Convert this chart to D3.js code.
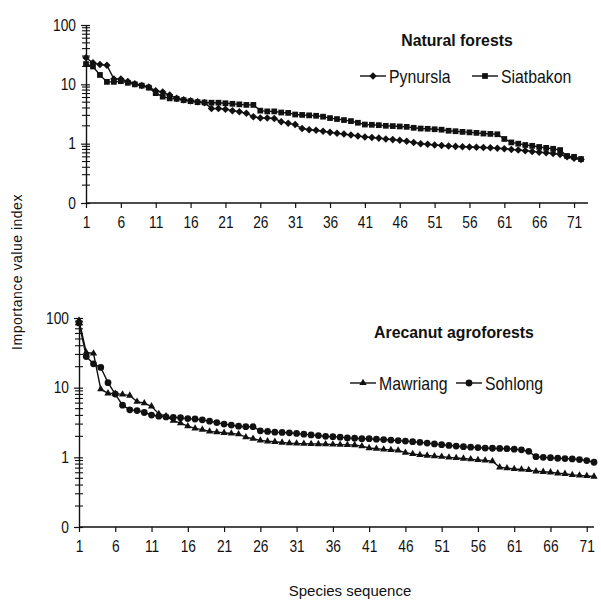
<!DOCTYPE html>
<html>
<head>
<meta charset="utf-8">
<script src="https://cdn.jsdelivr.net/npm/d3@7"></script>
<style>
  body { margin: 0; background: #fff; }
  svg text { font-family: "Liberation Sans", Arial, sans-serif; fill: #111; }
</style>
</head>
<body>
<svg id="chart" width="601" height="601"></svg>
<script>
// species rank 1..72
const species = d3.range(1, 73);

// Natural forests
const pynursla = [28, 23, 21.5, 21, 12.3, 12.3, 11.2, 10.2, 9.6, 9.0,
  7.8, 7.4, 6.6, 5.8, 5.5, 5.3, 5.1, 4.9, 3.9, 3.9,
  3.8, 3.6, 3.45, 3.25, 2.85, 2.7, 2.7, 2.65, 2.35, 2.2,
  2.1, 1.8, 1.72, 1.68, 1.62, 1.55, 1.5, 1.45, 1.4, 1.35,
  1.3, 1.27, 1.24, 1.2, 1.17, 1.14, 1.1, 1.05, 1.0, 0.98,
  0.95, 0.93, 0.91, 0.9, 0.89, 0.88, 0.87, 0.86, 0.85, 0.84,
  0.82, 0.8, 0.78, 0.76, 0.74, 0.72, 0.7, 0.68, 0.66, 0.6,
  0.57, 0.54];
const siatbakon = [22, 20, 14.4, 11, 11, 11.3, 10.6, 10, 9.5, 8.8,
  7.1, 6.2, 5.8, 5.7, 5.4, 5.2, 5.0, 4.95, 4.9, 4.9,
  4.8, 4.7, 4.6, 4.5, 4.5, 3.6, 3.5, 3.5, 3.35, 3.3,
  3.1, 3.05, 3.0, 2.95, 2.85, 2.7, 2.6, 2.5, 2.4, 2.25,
  2.1, 2.08, 2.05, 2.0, 1.98, 1.95, 1.92, 1.85, 1.8, 1.78,
  1.75, 1.72, 1.65, 1.62, 1.58, 1.55, 1.52, 1.48, 1.46, 1.44,
  1.2, 1.05, 1.0, 0.95, 0.92, 0.88, 0.85, 0.82, 0.78, 0.62,
  0.6, 0.55];

// Arecanut agroforests
const mawriang = [92, 32, 31, 9.5, 8.3, 8.2, 8.0, 7.7, 6.3, 6.0,
  5.4, 4.2, 3.9, 3.35, 3.1, 2.8, 2.6, 2.5, 2.35, 2.3,
  2.25, 2.2, 2.15, 1.95, 1.85, 1.75, 1.7, 1.67, 1.63, 1.6,
  1.58, 1.57, 1.56, 1.55, 1.54, 1.53, 1.52, 1.51, 1.5, 1.45,
  1.36, 1.33, 1.3, 1.28, 1.26, 1.17, 1.12, 1.08, 1.06, 1.04,
  1.02, 1.0, 0.98, 0.96, 0.94, 0.92, 0.9, 0.88, 0.72, 0.7,
  0.68, 0.67, 0.66, 0.63, 0.62, 0.61, 0.59, 0.58, 0.56, 0.55,
  0.54, 0.53];
const sohlong = [85, 28, 22, 19.5, 11.8, 8.1, 5.6, 4.8, 4.7, 4.4,
  4.05, 3.9, 3.8, 3.75, 3.7, 3.6, 3.55, 3.45, 3.3, 3.15,
  3.0, 2.9, 2.8, 2.75, 2.75, 2.4, 2.35, 2.3, 2.28, 2.25,
  2.2, 2.15, 2.1, 2.05, 2.0, 1.98, 1.95, 1.9, 1.88, 1.85,
  1.85, 1.82, 1.8, 1.77, 1.74, 1.71, 1.68, 1.64, 1.6, 1.56,
  1.52, 1.48, 1.45, 1.42, 1.4, 1.38, 1.36, 1.35, 1.34, 1.33,
  1.31, 1.28, 1.22, 1.02, 1.0, 0.99, 0.97, 0.96, 0.95, 0.93,
  0.9, 0.85];

const xTicks = [1, 6, 11, 16, 21, 26, 31, 36, 41, 46, 51, 56, 61, 66, 71];
const yTicks = [0.1, 1, 10, 100];
const yTickLabels = ["0", "1", "10", "100"];

const svg = d3.select("#chart");

// minor ticks 2..9 in every decade
const minorTicks = [];
[0.1, 1, 10].forEach(d => {
    for (let k = 2; k <= 9; k++) minorTicks.push(+(d * k).toPrecision(3));
});

// squeeze text horizontally (scan font is narrow)
function squeeze(sel, k) {
    sel.each(function () {
        const t = d3.select(this);
        const x0 = +t.attr("x") || 0;
        const prev = t.attr("transform") || "";
        t.attr("transform", `${prev} translate(${x0},0) scale(${k},1) translate(${-x0},0)`);
    });
}

function drawPanel(cfg) {
    const x = d3.scaleLinear().domain(cfg.xDomain).range(cfg.xRange);
    const y = d3.scaleLog().domain([0.1, 100]).range(cfg.yRange);
    const g = svg.append("g");

    // x axis
    const xa = g.append("g")
        .attr("transform", `translate(0,${cfg.yRange[0]})`)
        .call(d3.axisBottom(x).tickValues(xTicks).tickSize(5).tickSizeOuter(0).tickPadding(9));
    xa.select(".domain").attr("stroke", "#111").attr("stroke-width", 1.4)
        .attr("d", `M${cfg.xRange[0]},0H${cfg.xRange[1]}`);
    xa.selectAll(".tick line").attr("stroke", "#111").attr("stroke-width", 1.2);
    xa.selectAll(".tick text").style("font-size", "16px").attr("fill", "#111").call(squeeze, 0.86);

    // y axis, major
    const labelOf = d3.scaleOrdinal().domain(yTicks).range(yTickLabels);
    const ya = g.append("g")
        .attr("transform", `translate(${cfg.xRange[0]},0)`)
        .call(d3.axisLeft(y).tickValues(yTicks).tickSize(5).tickSizeOuter(0)
            .tickPadding(5).tickFormat(d => labelOf(d)));
    ya.select(".domain").attr("stroke", "#111").attr("stroke-width", 1.4);
    ya.selectAll(".tick line").attr("stroke", "#111").attr("stroke-width", 1.2).attr("x2", 4).attr("x1", -5);
    ya.selectAll(".tick text").style("font-size", "16px").attr("fill", "#111").call(squeeze, 0.86);

    // y axis, minor (crossing)
    g.append("g").selectAll("line").data(minorTicks).join("line")
        .attr("x1", cfg.xRange[0] - 4).attr("x2", cfg.xRange[0] + 4)
        .attr("y1", d => y(d)).attr("y2", d => y(d))
        .attr("stroke", "#111").attr("stroke-width", 1.1);

    // series
    const line = d3.line().x((d, i) => x(species[i])).y(d => y(d));
    cfg.series.forEach(s => {
        g.append("path").datum(s.values)
            .attr("d", line).attr("fill", "none")
            .attr("stroke", "#111").attr("stroke-width", 1.4);
        g.append("g").selectAll("path").data(s.values).join("path")
            .attr("transform", (d, i) => `translate(${x(species[i])},${y(d)})`)
            .attr("d", d3.symbol().type(s.symbol).size(s.size))
            .attr("fill", "#111");
    });

    // title
    g.append("text").attr("x", cfg.title[1]).attr("y", cfg.title[2])
        .attr("text-anchor", "middle")
        .style("font-size", "17px").style("font-weight", "bold")
        .text(cfg.title[0])
        .call(squeeze, 0.93);

    // legend
    cfg.series.forEach(s => {
        const lg = g.append("g").attr("transform", `translate(${s.legend[0]},${s.legend[1]})`);
        lg.append("line").attr("x1", 0).attr("x2", 26).attr("y1", 0).attr("y2", 0)
            .attr("stroke", "#111").attr("stroke-width", 1.4);
        lg.append("path").attr("transform", "translate(13,0)")
            .attr("d", d3.symbol().type(s.symbol).size(s.size)).attr("fill", "#111");
        lg.append("text").attr("x", 29).attr("y", 6.5)
            .style("font-size", "18px").text(s.name)
            .call(squeeze, 0.88);
    });
}

drawPanel({
    xDomain: [1, 73], xRange: [86, 588], yRange: [203, 25],
    title: ["Natural forests", 457, 46],
    series: [
        { name: "Pynursla", values: pynursla, symbol: d3.symbolDiamond2, size: 36, legend: [360, 76] },
        { name: "Siatbakon", values: siatbakon, symbol: d3.symbolSquare2, size: 42, legend: [472, 76] }
    ]
});

drawPanel({
    xDomain: [1, 72], xRange: [79, 594], yRange: [527, 318],
    title: ["Arecanut agroforests", 454, 338],
    series: [
        { name: "Mawriang", values: mawriang, symbol: d3.symbolTriangle2, size: 38, legend: [350, 383] },
        { name: "Sohlong", values: sohlong, symbol: d3.symbolCircle, size: 36, legend: [456, 383] }
    ]
});

// axis titles
svg.append("text")
    .attr("transform", "translate(22,272) rotate(-90)")
    .attr("text-anchor", "middle")
    .style("font-size", "14px").style("letter-spacing", "0.5px")
    .text("Importance value index");

svg.append("text")
    .attr("x", 350).attr("y", 596)
    .attr("text-anchor", "middle")
    .style("font-size", "15px")
    .text("Species sequence");
</script>
</body>
</html>
